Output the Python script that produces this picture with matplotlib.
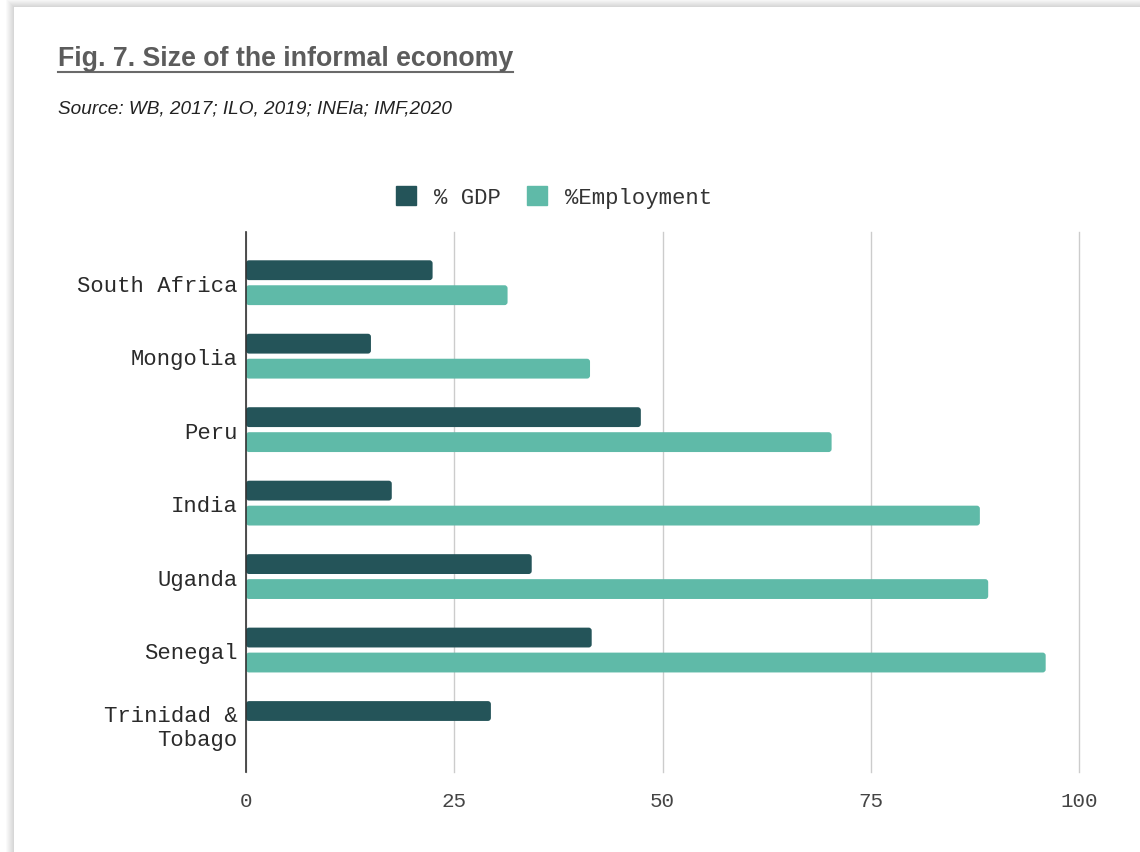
import matplotlib
matplotlib.use("Agg")
import matplotlib.pyplot as plt
from matplotlib.patches import Rectangle, FancyBboxPatch
from matplotlib.lines import Line2D
import numpy as np

countries = ["South Africa", "Mongolia", "Peru", "India", "Uganda", "Senegal", "Trinidad &\nTobago"]
gdp_share = [22.4, 15.0, 47.4, 17.5, 34.3, 41.5, 29.4]
employment_share = [31.4, 41.3, 70.3, 88.1, 89.1, 96.0, None]
series_names = ["% GDP", "%Employment"]
x_ticks = [0, 25, 50, 75, 100]

DARK = "#245459"
LIGHT = "#5fbaa8"
MONO = "Liberation Mono"
SANS = "Liberation Sans"
W, H = 1140, 853

fig = plt.figure(figsize=(W / 100, H / 100), dpi=100)
fig.patch.set_facecolor("white")

# card with a soft shadow on its top and left edges
for i in range(8):
    d = 8 - i
    fig.patches.append(Rectangle(((14 - d) / W, -0.1), 1.2, 1 - (8 - d) / H + 0.1,
                                 transform=fig.transFigure, facecolor="black",
                                 alpha=0.018, edgecolor="none", zorder=-3))
fig.patches.append(Rectangle((14 / W, -0.1), 1.2, 1 - 8 / H + 0.1,
                             transform=fig.transFigure, facecolor="white",
                             edgecolor="none", zorder=-2))

# title and source line
title = fig.text(58 / W, 1 - 66 / H, "Fig. 7. Size of the informal economy",
                 fontsize=19.3, family=SANS, weight="bold", color="#5c5c5c",
                 va="baseline", ha="left")
fig.text(58 / W, 1 - 113 / H, "Source: WB, 2017; ILO, 2019; INEla; IMF,2020",
         fontsize=13.7, family=SANS, style="italic", color="#222222",
         va="baseline", ha="left")

ax = fig.add_axes([246 / W, 80 / H, 833 / W, 540 / H])
ax.set_facecolor("white")

y = np.arange(len(countries))
h = 0.27
off = 0.17
gdp_vals = [v if v is not None else 0 for v in gdp_share]
emp_vals = [v if v is not None else 0 for v in employment_share]
b1 = ax.barh(y - off, gdp_vals, height=h, color=DARK, label=series_names[0], zorder=3)
b2 = ax.barh(y + off, emp_vals, height=h, color=LIGHT, label=series_names[1], zorder=3)

ax.set_xlim(0, 100)
ax.set_ylim(len(countries) - 1 + 0.66, -0.69)

# give each bar slightly rounded corners (radius ~3 px)
px_x = 100 / 833
px_y = (len(countries) - 1 + 0.66 + 0.69) / 540
for container in (b1, b2):
    for rect in container:
        w_ = rect.get_width()
        if w_ <= 0:
            continue
        r = 3 * px_x
        rb = FancyBboxPatch((rect.get_x(), rect.get_y()), w_, rect.get_height(),
                            boxstyle=f"round,pad=0,rounding_size={r}",
                            mutation_aspect=px_y / px_x,
                            facecolor=rect.get_facecolor(), edgecolor="none", zorder=3)
        ax.add_patch(rb)
        rect.set_visible(False)

ax.set_xticks(x_ticks)
ax.set_xticklabels([str(t) for t in x_ticks], family=MONO, fontsize=15, color="#444444")
ax.set_yticks(y)
ax.set_yticklabels(countries, family=MONO, fontsize=16, color="#2a2a2a")
ax.tick_params(axis="both", length=0)
ax.tick_params(axis="x", pad=14)
ax.tick_params(axis="y", pad=6)
for lbl in ax.get_yticklabels():
    lbl.set_multialignment("right")

ax.grid(axis="x", color="#cccccc", lw=1, zorder=0)
ax.grid(axis="y", visible=False)
for gl in ax.get_xgridlines():
    gl.set_clip_on(False)
for s in ["top", "right", "bottom"]:
    ax.spines[s].set_visible(False)
ax.spines["left"].set_color("#333333")
ax.spines["left"].set_linewidth(1.2)
ax.spines["left"].set_zorder(4)

leg = fig.legend(handles=[Rectangle((0, 0), 1, 1, color=DARK),
                          Rectangle((0, 0), 1, 1, color=LIGHT)],
                 labels=series_names, loc="center",
                 bbox_to_anchor=(554 / W, 1 - 198 / H), ncol=2, frameon=False,
                 prop={"family": MONO, "size": 16}, handlelength=0.9, handleheight=0.9,
                 handletextpad=0.8, columnspacing=1.2)
for t in leg.get_texts():
    t.set_color("#333333")

# underline the title across its full rendered width
fig.canvas.draw()
bb = title.get_window_extent(fig.canvas.get_renderer())
fig.add_artist(Line2D([bb.x0 / W, bb.x1 / W], [1 - 73 / H, 1 - 73 / H],
                      transform=fig.transFigure, color="#6a6a6a", lw=1.5))

fig.savefig("out.png", dpi=100, facecolor="white")
